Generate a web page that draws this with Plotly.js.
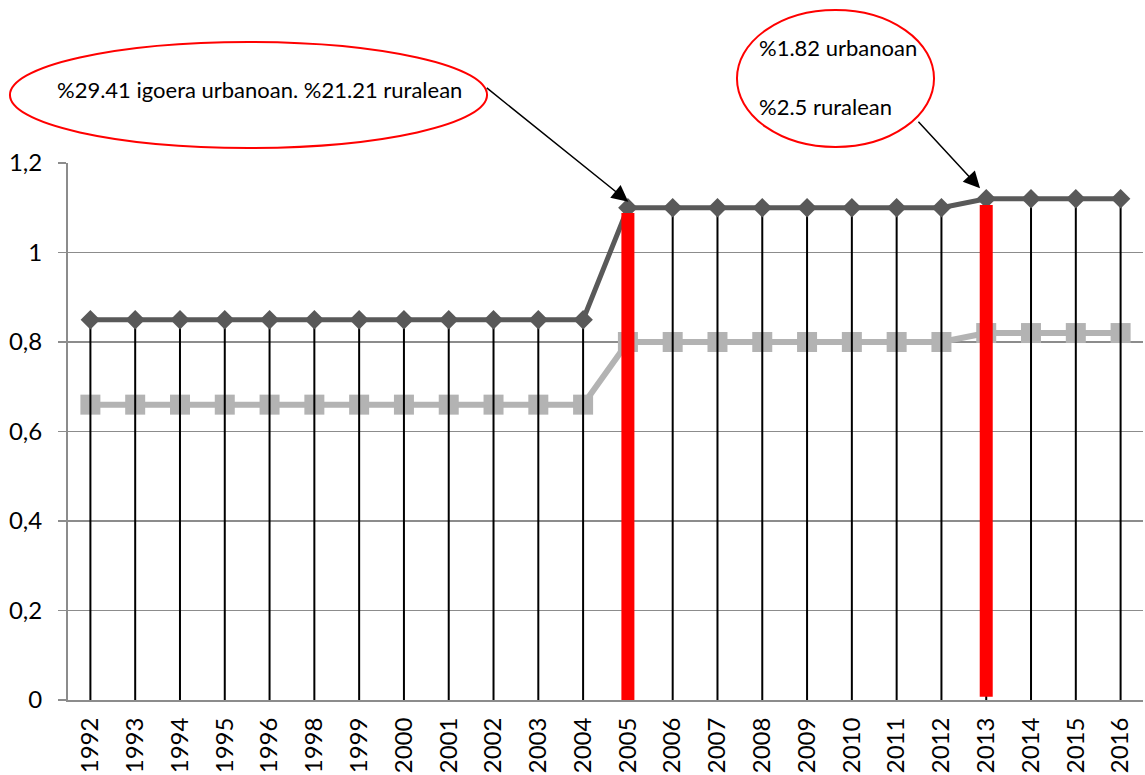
<!DOCTYPE html>
<html>
<head>
<meta charset="utf-8">
<script src="https://cdn.plot.ly/plotly-3.0.1.min.js"></script>
<style>
  html, body { margin: 0; padding: 0; background: #fff; }
  #chart { width: 1145px; height: 775px; }
</style>
</head>
<body>
<div id="chart"></div>
<script>
// Categories (1997 is absent in the source)
const years = ['1992','1993','1994','1995','1996','1998','1999','2000','2001','2002','2003','2004',
               '2005','2006','2007','2008','2009','2010','2011','2012','2013','2014','2015','2016'];
// Urban series (dark, diamonds)
const urban = [0.85,0.85,0.85,0.85,0.85,0.85,0.85,0.85,0.85,0.85,0.85,0.85,
               1.10,1.10,1.10,1.10,1.10,1.10,1.10,1.10,1.12,1.12,1.12,1.12];
// Rural series (light, squares)
const rural = [0.66,0.66,0.66,0.66,0.66,0.66,0.66,0.66,0.66,0.66,0.66,0.66,
               0.80,0.80,0.80,0.80,0.80,0.80,0.80,0.80,0.82,0.82,0.82,0.82];
// Red highlight bars
const highlightYears = ['2005','2013'];
const highlightTop = [1.088, 1.106];
const highlightBottom = [-0.012, 0.007];
// Y ticks
const yTicks = [0, 0.2, 0.4, 0.6, 0.8, 1, 1.2];
// Callout texts
const callout1 = '%29.41 igoera urbanoan. %21.21 ruralean';
const callout2a = '%1.82 urbanoan';
const callout2b = '%2.5 ruralean';

const FONT = 'Lato, "Open Sans", sans-serif';

const redX = [], redY = [];
highlightYears.forEach((yr, i) => {
  if (i > 0) { redX.push(null); redY.push(null); }
  redX.push(yr, yr);
  redY.push(highlightBottom[i], highlightTop[i]);
});

const traces = [
  {
    x: years, y: rural, type: 'scatter', mode: 'lines+markers',
    line: { color: '#b3b3b3', width: 6 },
    marker: { symbol: 'square', size: 20, color: '#b3b3b3' },
    hoverinfo: 'x+y', showlegend: false
  },
  {
    x: years, y: urban, type: 'scatter', mode: 'lines+markers',
    line: { color: '#595959', width: 5 },
    marker: { symbol: 'diamond', size: 15, color: '#595959' },
    error_y: {
      type: 'data', symmetric: false,
      array: urban.map(() => 0), arrayminus: urban,
      color: '#000000', thickness: 2, width: 0
    },
    hoverinfo: 'x+y', showlegend: false
  },
  {
    x: redX, y: redY, type: 'scatter', mode: 'lines',
    line: { color: '#ff0000', width: 13 },
    hoverinfo: 'skip', showlegend: false, connectgaps: false
  }
];

const layout = {
  width: 1145, height: 775,
  margin: { l: 68, r: 2, t: 163, b: 75, pad: 0 },
  paper_bgcolor: '#ffffff', plot_bgcolor: '#ffffff',
  separators: ',.',
  font: { family: FONT, size: 24, color: '#000000' },
  showlegend: false,
  xaxis: {
    type: 'category', categoryorder: 'array', categoryarray: years,
    range: [-0.5, years.length - 0.5],
    showgrid: false, zeroline: false,
    showline: true, linecolor: '#8c8c8c', linewidth: 2,
    ticks: '', tickangle: -90,
    tickfont: { family: FONT, size: 24, color: '#000000' },
    ticklabelstandoff: 6,
    fixedrange: true
  },
  yaxis: {
    range: [0, 1.2], tickvals: yTicks,
    showgrid: true, gridcolor: '#8c8c8c', gridwidth: 1.5,
    zeroline: false,
    showline: true, linecolor: '#8c8c8c', linewidth: 2,
    ticks: 'outside', ticklen: 8, tickcolor: '#8c8c8c', tickwidth: 1.5,
    tickfont: { family: FONT, size: 24, color: '#000000' },
    ticklabelstandoff: 11,
    fixedrange: true
  },
  shapes: [
    { type: 'circle', xref: 'paper', yref: 'paper',
      x0: -0.054, x1: 0.3898, y0: 1.028, y1: 1.2253,
      line: { color: '#ff0000', width: 2 }, fillcolor: 'rgba(0,0,0,0)' },
    { type: 'circle', xref: 'paper', yref: 'paper',
      x0: 0.6223, x1: 0.8056, y0: 1.0298, y1: 1.2849,
      line: { color: '#ff0000', width: 2 }, fillcolor: 'rgba(0,0,0,0)' }
  ],
  annotations: [
    { xref: 'paper', yref: 'paper', x: 0.1777, y: 1.1378, xanchor: 'center', yanchor: 'middle',
      text: callout1, showarrow: false, font: { family: FONT, size: 22, color: '#000' } },
    { xref: 'paper', yref: 'paper', x: 0.641, y: 1.216, xanchor: 'left', yanchor: 'middle',
      text: callout2a, showarrow: false, font: { family: FONT, size: 22, color: '#000' } },
    { xref: 'paper', yref: 'paper', x: 0.641, y: 1.1043, xanchor: 'left', yanchor: 'middle',
      text: callout2b, showarrow: false, font: { family: FONT, size: 22, color: '#000' } },
    { xref: 'paper', yref: 'paper', x: 0.5212, y: 0.9279, text: '',
      showarrow: true, axref: 'pixel', ayref: 'pixel', ax: -143, ay: -115,
      arrowhead: 2, arrowsize: 2.2, arrowwidth: 1.5, arrowcolor: '#000' },
    { xref: 'paper', yref: 'paper', x: 0.8484, y: 0.9529, text: '',
      showarrow: true, axref: 'pixel', ayref: 'pixel', ax: -63, ay: -68,
      arrowhead: 2, arrowsize: 2.2, arrowwidth: 1.5, arrowcolor: '#000' }
  ]
};

Plotly.newPlot('chart', traces, layout, { displayModeBar: false, staticPlot: true });
</script>
</body>
</html>
